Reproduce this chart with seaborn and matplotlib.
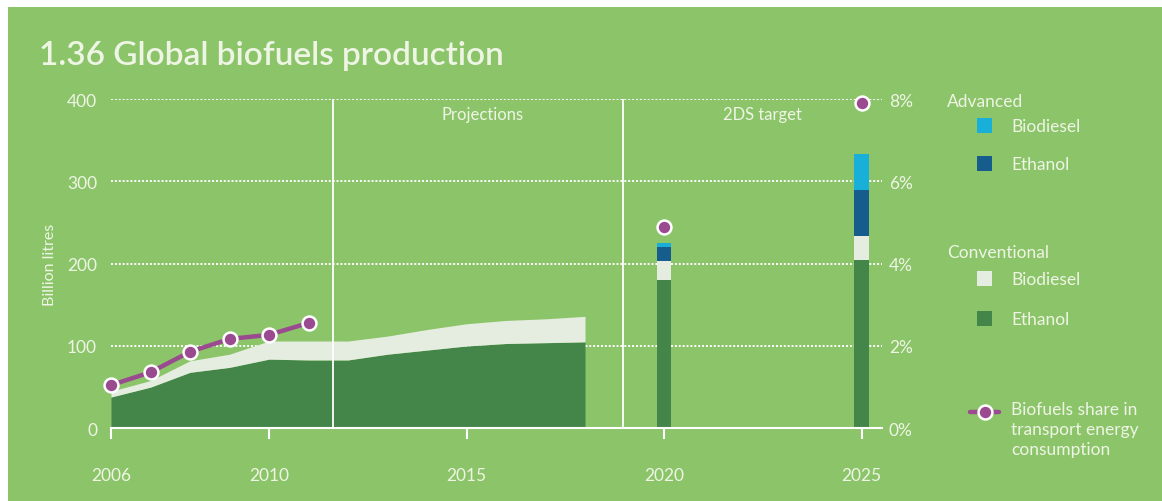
import numpy as np
import seaborn as sns
import matplotlib.pyplot as plt
from matplotlib.patches import Rectangle
from matplotlib.lines import Line2D
from matplotlib.ticker import FuncFormatter

# historical + projected production (billion litres)
years = [2006, 2007, 2008, 2009, 2010, 2011, 2012, 2013, 2014, 2015, 2016, 2017, 2018]
conv_ethanol = [38, 50, 68, 74, 84, 83, 83, 90, 95, 100, 103, 104, 105]
conv_biodiesel = [7, 8, 14, 16, 22, 23, 23, 22, 25, 27, 28, 29, 31]

# 2DS target bars
target_years = [2020, 2025]
tgt_conv_ethanol = [180, 205]
tgt_conv_biodiesel = [23, 28]
tgt_adv_ethanol = [17, 57]
tgt_adv_biodiesel = [5, 43]

# biofuels share in transport energy (%)
share_years = [2006, 2007, 2008, 2009, 2010, 2011]
share_pct = [1.05, 1.36, 1.86, 2.17, 2.27, 2.56]
share_target_years = [2020, 2025]
share_target_pct = [4.9, 7.9]

x_ticks = [2006, 2010, 2015, 2020, 2025]
y_ticks = [0, 100, 200, 300, 400]
pct_ticks = [0, 2, 4, 6, 8]
dividers = [2011.63, 2018.95]

BG = '#8CC46A'
DARK = '#44854A'
LIGHT = '#E5EDE0'
ADV_ETH = '#165C8D'
ADV_BIO = '#18AFD9'
PURPLE = '#9A4A8E'
TXT = '#EEF5E4'

W, H = 1162, 502

sns.set_theme(style='white')
plt.rcParams['font.family'] = ['Lato', 'DejaVu Sans']


def fx(px):
    return px / W


def fy(py):
    return 1 - py / H


fig = plt.figure(figsize=(W / 100, H / 100), dpi=100, facecolor='white')
fig.add_artist(Rectangle((fx(8), 0), 1 - fx(8), fy(8), transform=fig.transFigure,
                         facecolor=BG, edgecolor='none', zorder=-10))

ax = fig.add_axes([fx(111), fy(429.3), fx(882 - 111), (429.3 - 100) / H])
ax.set_facecolor('none')

eth = np.array(conv_ethanol)
tot = eth + np.array(conv_biodiesel)
ax.fill_between(years, 0, eth, color=DARK, lw=0, zorder=2)
ax.fill_between(years, eth, tot, color=LIGHT, lw=0, zorder=2)

bottom = np.zeros(len(target_years))
for vals, col in [(tgt_conv_ethanol, DARK), (tgt_conv_biodiesel, LIGHT),
                  (tgt_adv_ethanol, ADV_ETH), (tgt_adv_biodiesel, ADV_BIO)]:
    ax.bar(target_years, vals, bottom=bottom, width=0.37, color=col, lw=0, zorder=2)
    bottom += np.array(vals)

for d in dividers:
    ax.axvline(d, color='white', lw=1.3, zorder=3)

ax.set_xlim(2006, 2006 + 771 / 39.5)
ax.set_ylim(0, 400)
ax.set_xticks(x_ticks)
ax.set_yticks(y_ticks)
ax.set_axisbelow(True)
ax.grid(axis='y', color='white', linestyle=(0, (1, 1)), lw=1.4)
ax.grid(axis='x', visible=False)
for s in ['top', 'right', 'left']:
    ax.spines[s].set_visible(False)
ax.spines['bottom'].set_color('white')
ax.spines['bottom'].set_linewidth(1.5)
ax.spines['bottom'].set_zorder(4)
ax.tick_params(axis='x', length=8, width=1.5, color='white', pad=20,
               labelcolor=TXT, labelsize=12.5, direction='out', bottom=True)
ax.tick_params(axis='y', length=0, pad=10, labelcolor=TXT, labelsize=12.5)
ax.set_ylabel('Billion litres', color=TXT, fontsize=11.5)
ax.yaxis.set_label_coords((57 - 111) / 771, 0.5)

ax.text(2015.4, 382, 'Projections', ha='center', va='center', color=TXT, fontsize=12)
ax.text(2022.5, 382, '2DS target', ha='center', va='center', color=TXT, fontsize=12)

ax2 = ax.twinx()
ax2.set_facecolor('none')
ax2.set_ylim(0, 8)
ax2.set_yticks(pct_ticks)
ax2.yaxis.set_major_formatter(FuncFormatter(lambda v, p: '{:.0f}%'.format(v)))
ax2.tick_params(axis='y', length=0, pad=5, labelcolor=TXT, labelsize=12.5)
ax2.grid(False)
for s in ax2.spines.values():
    s.set_visible(False)

sns.lineplot(x=share_years, y=share_pct, ax=ax2, color=PURPLE, lw=3.2,
             marker='o', markersize=10, markerfacecolor=PURPLE,
             markeredgecolor='white', markeredgewidth=1.8, clip_on=False, zorder=5)
sns.scatterplot(x=share_target_years, y=share_target_pct, ax=ax2, color=PURPLE,
                s=100, edgecolor='white', linewidth=1.8, clip_on=False, zorder=5)
ax2.set_ylabel('')

fig.text(fx(39), fy(65), '1.36 Global biofuels production', color=TXT,
         fontsize=24, fontweight='semibold', va='baseline', ha='left')

# legend
fig.text(fx(947), fy(102), 'Advanced', color=TXT, fontsize=12.5, va='center')
fig.text(fx(947), fy(253), 'Conventional', color=TXT, fontsize=12.5, va='center')
for yy, col, lab in [(127, ADV_BIO, 'Biodiesel'), (165, ADV_ETH, 'Ethanol'),
                     (280, LIGHT, 'Biodiesel'), (320, DARK, 'Ethanol')]:
    fig.add_artist(Rectangle((fx(977), fy(yy + 7)), fx(15), 15 / H,
                             transform=fig.transFigure, facecolor=col, edgecolor='none'))
    fig.text(fx(1011), fy(yy), lab, color=TXT, fontsize=12.5, va='center')

fig.add_artist(Line2D([fx(970), fx(999)], [fy(413), fy(413)], transform=fig.transFigure,
                      color=PURPLE, lw=3.2))
fig.add_artist(Line2D([fx(985)], [fy(413)], transform=fig.transFigure, marker='o',
                      markersize=10, markerfacecolor=PURPLE, markeredgecolor='white',
                      markeredgewidth=1.8, lw=0))
fig.text(fx(1011), fy(402), 'Biofuels share in\ntransport energy\nconsumption',
         color=TXT, fontsize=12.5, va='top', linespacing=1.3)

fig.savefig('out.png', dpi=100, facecolor=fig.get_facecolor())
